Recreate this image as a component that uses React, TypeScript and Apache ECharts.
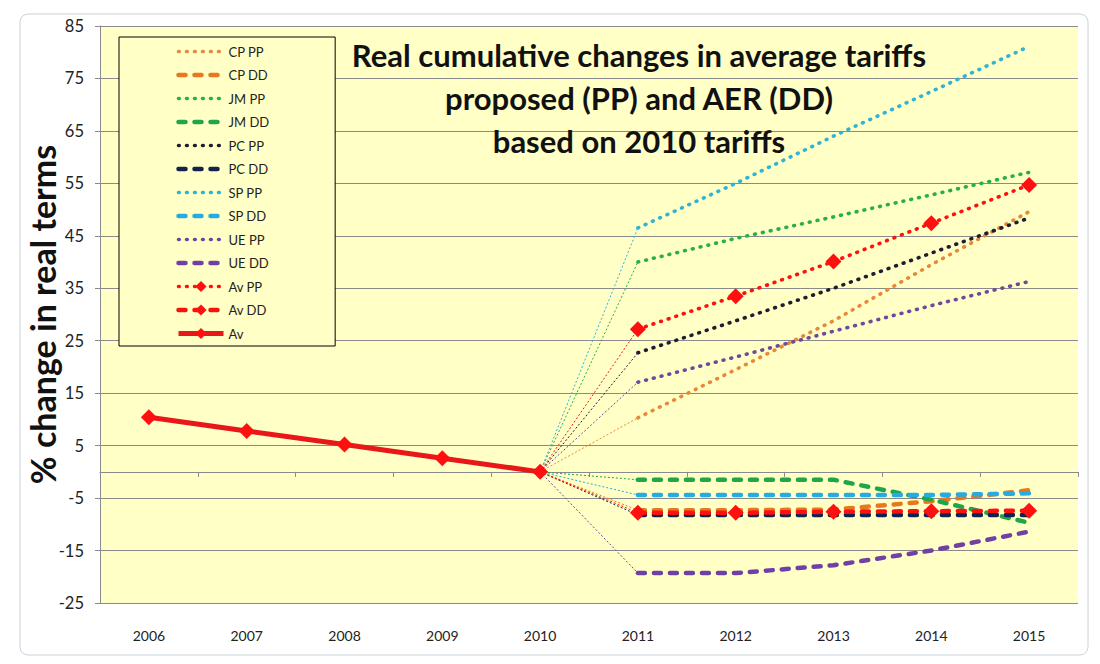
import React, { useEffect, useRef } from "react";
import * as echarts from "echarts";

const years = ["2006", "2007", "2008", "2009", "2010", "2011", "2012", "2013", "2014", "2015"];
const yTicks = [-25, -15, -5, 5, 15, 25, 35, 45, 55, 65, 75, 85];

// historical average (2006-2010)
const avHist = [10.4, 7.8, 5.2, 2.6, 0];

// forecast values 2011-2015
const cpPP = [10.3, 19.5, 28.8, 39.5, 49.6];
const cpDD = [-7.3, -7.3, -7.2, -5.6, -3.5];
const jmPP = [40.0, 44.5, 48.6, 52.8, 57.1];
const jmDD = [-1.5, -1.5, -1.5, -5.3, -9.7];
const pcPP = [22.7, 28.8, 35.0, 41.7, 48.4];
const pcDD = [-8.2, -8.2, -8.2, -8.2, -8.2];
const spPP = [46.5, 55.0, 64.0, 72.5, 81.1];
const spDD = [-4.4, -4.4, -4.4, -4.4, -4.1];
const uePP = [17.1, 21.9, 26.8, 31.7, 36.3];
const ueDD = [-19.3, -19.3, -17.8, -15.0, -11.4];
const avPP = [27.2, 33.5, 40.1, 47.4, 54.7];
const avDD = [-7.8, -7.8, -7.6, -7.5, -7.4];

const FONT = "Lato, 'Liberation Sans', sans-serif";
const DOT = [0.8, 7.2];
const DASH = [7, 9];

type Def = { name: string; values: number[]; color: string; kind: "pp" | "dd"; diamond?: boolean };

const defs: Def[] = [
  { name: "CP PP", values: cpPP, color: "#E8893A", kind: "pp" },
  { name: "CP DD", values: cpDD, color: "#E8771F", kind: "dd" },
  { name: "JM PP", values: jmPP, color: "#27B04A", kind: "pp" },
  { name: "JM DD", values: jmDD, color: "#1FA64A", kind: "dd" },
  { name: "PC PP", values: pcPP, color: "#1E1E30", kind: "pp" },
  { name: "PC DD", values: pcDD, color: "#14224F", kind: "dd" },
  { name: "SP PP", values: spPP, color: "#2FB4D8", kind: "pp" },
  { name: "SP DD", values: spDD, color: "#26ACE2", kind: "dd" },
  { name: "UE PP", values: uePP, color: "#6E4A9A", kind: "pp" },
  { name: "UE DD", values: ueDD, color: "#7040A4", kind: "dd" },
  { name: "Av PP", values: avPP, color: "#FF1010", kind: "pp", diamond: true },
  { name: "Av DD", values: avDD, color: "#FF1010", kind: "dd", diamond: true },
];

function forecast(v: number[]) {
  return [null, null, null, null, null, ...v];
}
function connector(v: number[]) {
  return [null, null, null, null, 0, v[0], null, null, null, null];
}

export default function App() {
  const ref = useRef<HTMLDivElement>(null);
  useEffect(() => {
    if (!ref.current) return;
    const chart = echarts.init(ref.current, null, { renderer: "svg" });

    const series: any[] = [];
    defs.forEach((d) => {
      series.push({
        name: d.name + " link",
        type: "line",
        xAxisIndex: 0,
        data: connector(d.values),
        symbol: "none",
        silent: true,
        lineStyle: { color: d.color, width: 1, type: [2, 2] },
        z: 2,
      });
    });
    defs.forEach((d) => {
      series.push({
        name: d.name,
        type: "line",
        xAxisIndex: 0,
        data: forecast(d.values),
        symbol: d.diamond ? "diamond" : "none",
        symbolSize: 16,
        showSymbol: !!d.diamond,
        itemStyle: { color: d.color },
        lineStyle: {
          color: d.color,
          width: d.kind === "pp" ? 3.6 : 4.5,
          type: d.kind === "pp" ? DOT : DASH,
          cap: "round",
        },
        z: d.diamond ? 5 : 3,
      });
    });
    series.push({
      name: "Av",
      type: "line",
      xAxisIndex: 0,
      data: [...avHist, null, null, null, null, null],
      symbol: "diamond",
      symbolSize: 16,
      itemStyle: { color: "#FF1010" },
      lineStyle: { color: "#E81818", width: 5 },
      z: 5,
    });

    const legendData = [
      ...defs.map((d) =>
        d.diamond ? { name: d.name } : { name: d.name, itemStyle: { opacity: 0 } }
      ),
      { name: "Av" },
    ];

    chart.setOption({
      animation: false,
      backgroundColor: "#ffffff",
      title: {
        text: "Real cumulative changes in average tariffs\nproposed (PP) and AER (DD)\nbased on 2010 tariffs",
        left: 634,
        top: 28,
        textAlign: "center",
        textStyle: {
          fontFamily: FONT,
          fontWeight: "bold",
          fontSize: 31,
          lineHeight: 43,
          color: "#111",
        },
      },
      legend: {
        orient: "vertical",
        left: 119,
        top: 37,
        data: legendData,
        itemWidth: 45,
        itemHeight: 14,
        itemGap: 10.5,
        padding: [8, 66, 6, 57],
        backgroundColor: "#FFFFC6",
        borderColor: "#000",
        borderWidth: 1,
        selectedMode: false,
        lineStyle: { width: "inherit" },
        textStyle: { fontFamily: FONT, fontSize: 13, color: "#222" },
      },
      grid: {
        left: 100,
        right: 22,
        top: 26,
        bottom: 61,
        show: true,
        backgroundColor: "#FFFFC6",
        borderWidth: 0,
      },
      xAxis: [
        {
          type: "category",
          data: years,
          position: "top",
          boundaryGap: true,
          axisLine: { show: true, onZero: true, lineStyle: { color: "#8A8A8A", width: 1 } },
          axisTick: { show: true, inside: true, length: 5, lineStyle: { color: "#8A8A8A" } },
          axisLabel: { show: false },
          splitLine: { show: false },
        },
        {
          type: "category",
          data: years,
          position: "bottom",
          boundaryGap: true,
          axisLine: { show: false, onZero: false },
          axisTick: { show: false },
          axisLabel: { show: true, margin: 25, fontFamily: FONT, fontSize: 14, color: "#222" },
          splitLine: { show: false },
        },
      ],
      yAxis: {
        type: "value",
        min: -25,
        max: 85,
        name: "% change in real terms",
        nameLocation: "middle",
        nameGap: 41,
        nameMoveOverlap: false,
        nameTextStyle: { fontFamily: FONT, fontWeight: "bold", fontSize: 34, color: "#111" },
        axisLine: { show: true, lineStyle: { color: "#8A8A8A" } },
        axisTick: { show: true, length: 5, customValues: yTicks, lineStyle: { color: "#8A8A8A" } },
        axisLabel: { customValues: yTicks, margin: 16, fontFamily: FONT, fontSize: 16.5, color: "#222" },
        splitLine: { show: true, lineStyle: { color: "#8A8A8A", width: 1 } },
      },
      graphic: [
        {
          type: "rect",
          shape: { x: 20, y: 14, width: 1068, height: 641, r: 8 },
          style: { fill: "none", stroke: "#C9D2DA", lineWidth: 1 },
          silent: true,
          z: -10,
        },
      ],
      series,
    });
    return () => chart.dispose();
  }, []);
  return (
    <div
      ref={ref}
      style={{ position: "absolute", left: 0, top: 0, width: 1100, height: 664 }}
    />
  );
}
